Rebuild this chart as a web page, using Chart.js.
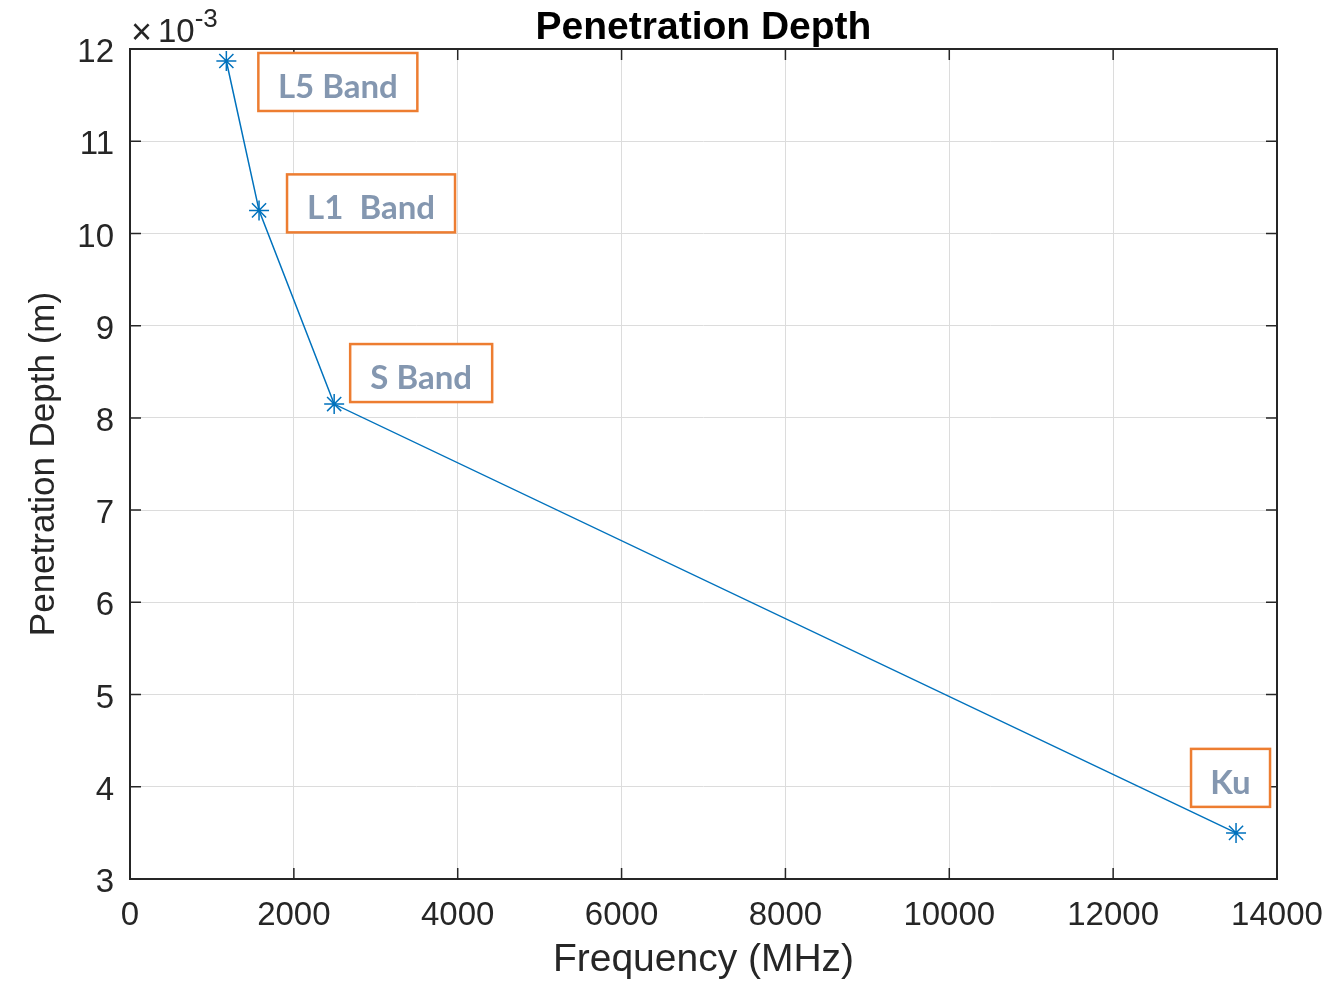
<!DOCTYPE html>
<html>
<head>
<meta charset="utf-8">
<script src="https://cdn.jsdelivr.net/npm/chart.js@4.4.1/dist/chart.umd.min.js"></script>
<style>
  html, body { margin: 0; padding: 0; background: #fff; }
  #wrap { width: 1328px; height: 982px; }
</style>
</head>
<body>
<div id="wrap"><canvas id="canvas" width="1328" height="982"></canvas></div>
<script>
// data
const freqMHz = [1176, 1575, 2492, 13500]
const depthM = [0.01187, 0.01025, 0.00815, 0.00350]
const bandLabels = ['L5 Band', 'L1  Band', 'S Band', 'Ku']
const xTicks = [0, 2000, 4000, 6000, 8000, 10000, 12000, 14000]
const yTicks = [3, 4, 5, 6, 7, 8, 9, 10, 11, 12]

const axisColor = '#262626'
const font = "'Liberation Sans', Arial, sans-serif"

// box offsets from each marker, pixels: [dx, dy, width]
const boxOffsets = [[32, -8, 159], [28, -36, 168], [16, -60, 142], [-45, -84, 79]]

const framePlugin = {
    id: 'frame',
    beforeDatasetsDraw(chart) {
        const {ctx, chartArea: a, scales: {x, y}} = chart
        ctx.save()
        ctx.strokeStyle = axisColor
        ctx.lineWidth = 2
        ctx.strokeRect(a.left, a.top, a.right - a.left, a.bottom - a.top)
        ctx.lineWidth = 1.5
        ctx.beginPath()
        const tl = 11
        xTicks.forEach(v => {
            const px = x.getPixelForValue(v)
            ctx.moveTo(px, a.bottom); ctx.lineTo(px, a.bottom - tl)
            ctx.moveTo(px, a.top); ctx.lineTo(px, a.top + tl)
        })
        yTicks.forEach(v => {
            const py = y.getPixelForValue(v / 1000)
            ctx.moveTo(a.left, py); ctx.lineTo(a.left + tl, py)
            ctx.moveTo(a.right, py); ctx.lineTo(a.right - tl, py)
        })
        ctx.stroke()
        ctx.restore()
    },
    afterDraw(chart) {
        const {ctx, chartArea: a, scales: {x, y}} = chart
        ctx.save()
        // title
        ctx.fillStyle = '#000'
        ctx.font = "bold 39px " + font
        ctx.textAlign = 'center'
        ctx.textBaseline = 'alphabetic'
        ctx.fillText('Penetration Depth', (a.left + a.right) / 2, 39)
        // exponent
        ctx.fillStyle = axisColor
        ctx.textAlign = 'left'
        ctx.font = "36px " + font
        ctx.fillText('\u00d7', 131, 44)
        ctx.font = "33px " + font
        ctx.fillText('10', 158, 42)
        const w10 = ctx.measureText('10').width
        ctx.font = "26px " + font
        ctx.fillText('-3', 158 + w10, 27)
        // band labels
        bandLabels.forEach((t, i) => {
            const px = x.getPixelForValue(freqMHz[i])
            const py = y.getPixelForValue(depthM[i])
            const [dx, dy, w] = boxOffsets[i]
            const bx = px + dx, by = py + dy, h = 58
            ctx.fillStyle = '#fff'
            ctx.fillRect(bx, by, w, h)
            ctx.strokeStyle = '#ED7D31'
            ctx.lineWidth = 2.5
            ctx.strokeRect(bx, by, w, h)
            ctx.fillStyle = '#8497B0'
            ctx.font = "bold 33px Lato, 'Open Sans', sans-serif"
            ctx.textAlign = 'center'
            ctx.textBaseline = 'middle'
            ctx.fillText(t, bx + w / 2, by + h / 2 + 5)
        })
        ctx.restore()
    }
}

const data = {
    datasets: [
        {
            label: 'Penetration Depth',
            data: freqMHz.map((f, i) => ({x: f, y: depthM[i]})),
            borderColor: '#0072BD',
            backgroundColor: '#0072BD',
            borderWidth: 1.5,
            pointStyle: 'star',
            pointRadius: 10,
            pointBorderWidth: 1.5,
            pointHoverRadius: 10,
            tension: 0,
        },
    ],
}

const config = {
    type: 'line',
    data: data,
    plugins: [framePlugin],
    options: {
        responsive: false,
        animation: false,
        layout: {padding: {top: 49, right: 51, left: 0, bottom: 0}},
        plugins: {legend: {display: false}, tooltip: {enabled: false}, title: {display: false}},
        scales: {
            x: {
                type: 'linear',
                min: 0, max: 14000,
                afterFit: s => { s.height = 103; s.paddingLeft = 0; s.paddingRight = 0 },
                afterBuildTicks: s => { s.ticks = xTicks.map(v => ({value: v})) },
                ticks: {padding: 17, color: axisColor, font: {family: font, size: 33}, callback: v => String(v)},
                grid: {color: '#dcdcdc', lineWidth: 1, drawTicks: false},
                border: {display: false},
                title: {display: true, text: 'Frequency (MHz)', color: axisColor, font: {family: font, size: 39, lineHeight: 1.1}, padding: {top: 0, bottom: 0}},
            },
            y: {
                type: 'linear',
                min: 0.003, max: 0.012,
                afterFit: s => { s.width = 130; s.paddingTop = 0; s.paddingBottom = 0 },
                afterBuildTicks: s => { s.ticks = yTicks.map(v => ({value: v / 1000})) },
                ticks: {padding: 16, labelOffset: 4, color: axisColor, font: {family: font, size: 33}, callback: v => String(Math.round(v * 1000))},
                grid: {color: '#dcdcdc', lineWidth: 1, drawTicks: false},
                border: {display: false},
                title: {display: true, text: 'Penetration Depth (m)', color: axisColor, font: {family: font, size: 35}, padding: {top: 23, bottom: 0}},
            },
        },
    },
}
const canvas = document.getElementById('canvas')
const chart = new Chart(canvas, config)
</script>
</body>
</html>
